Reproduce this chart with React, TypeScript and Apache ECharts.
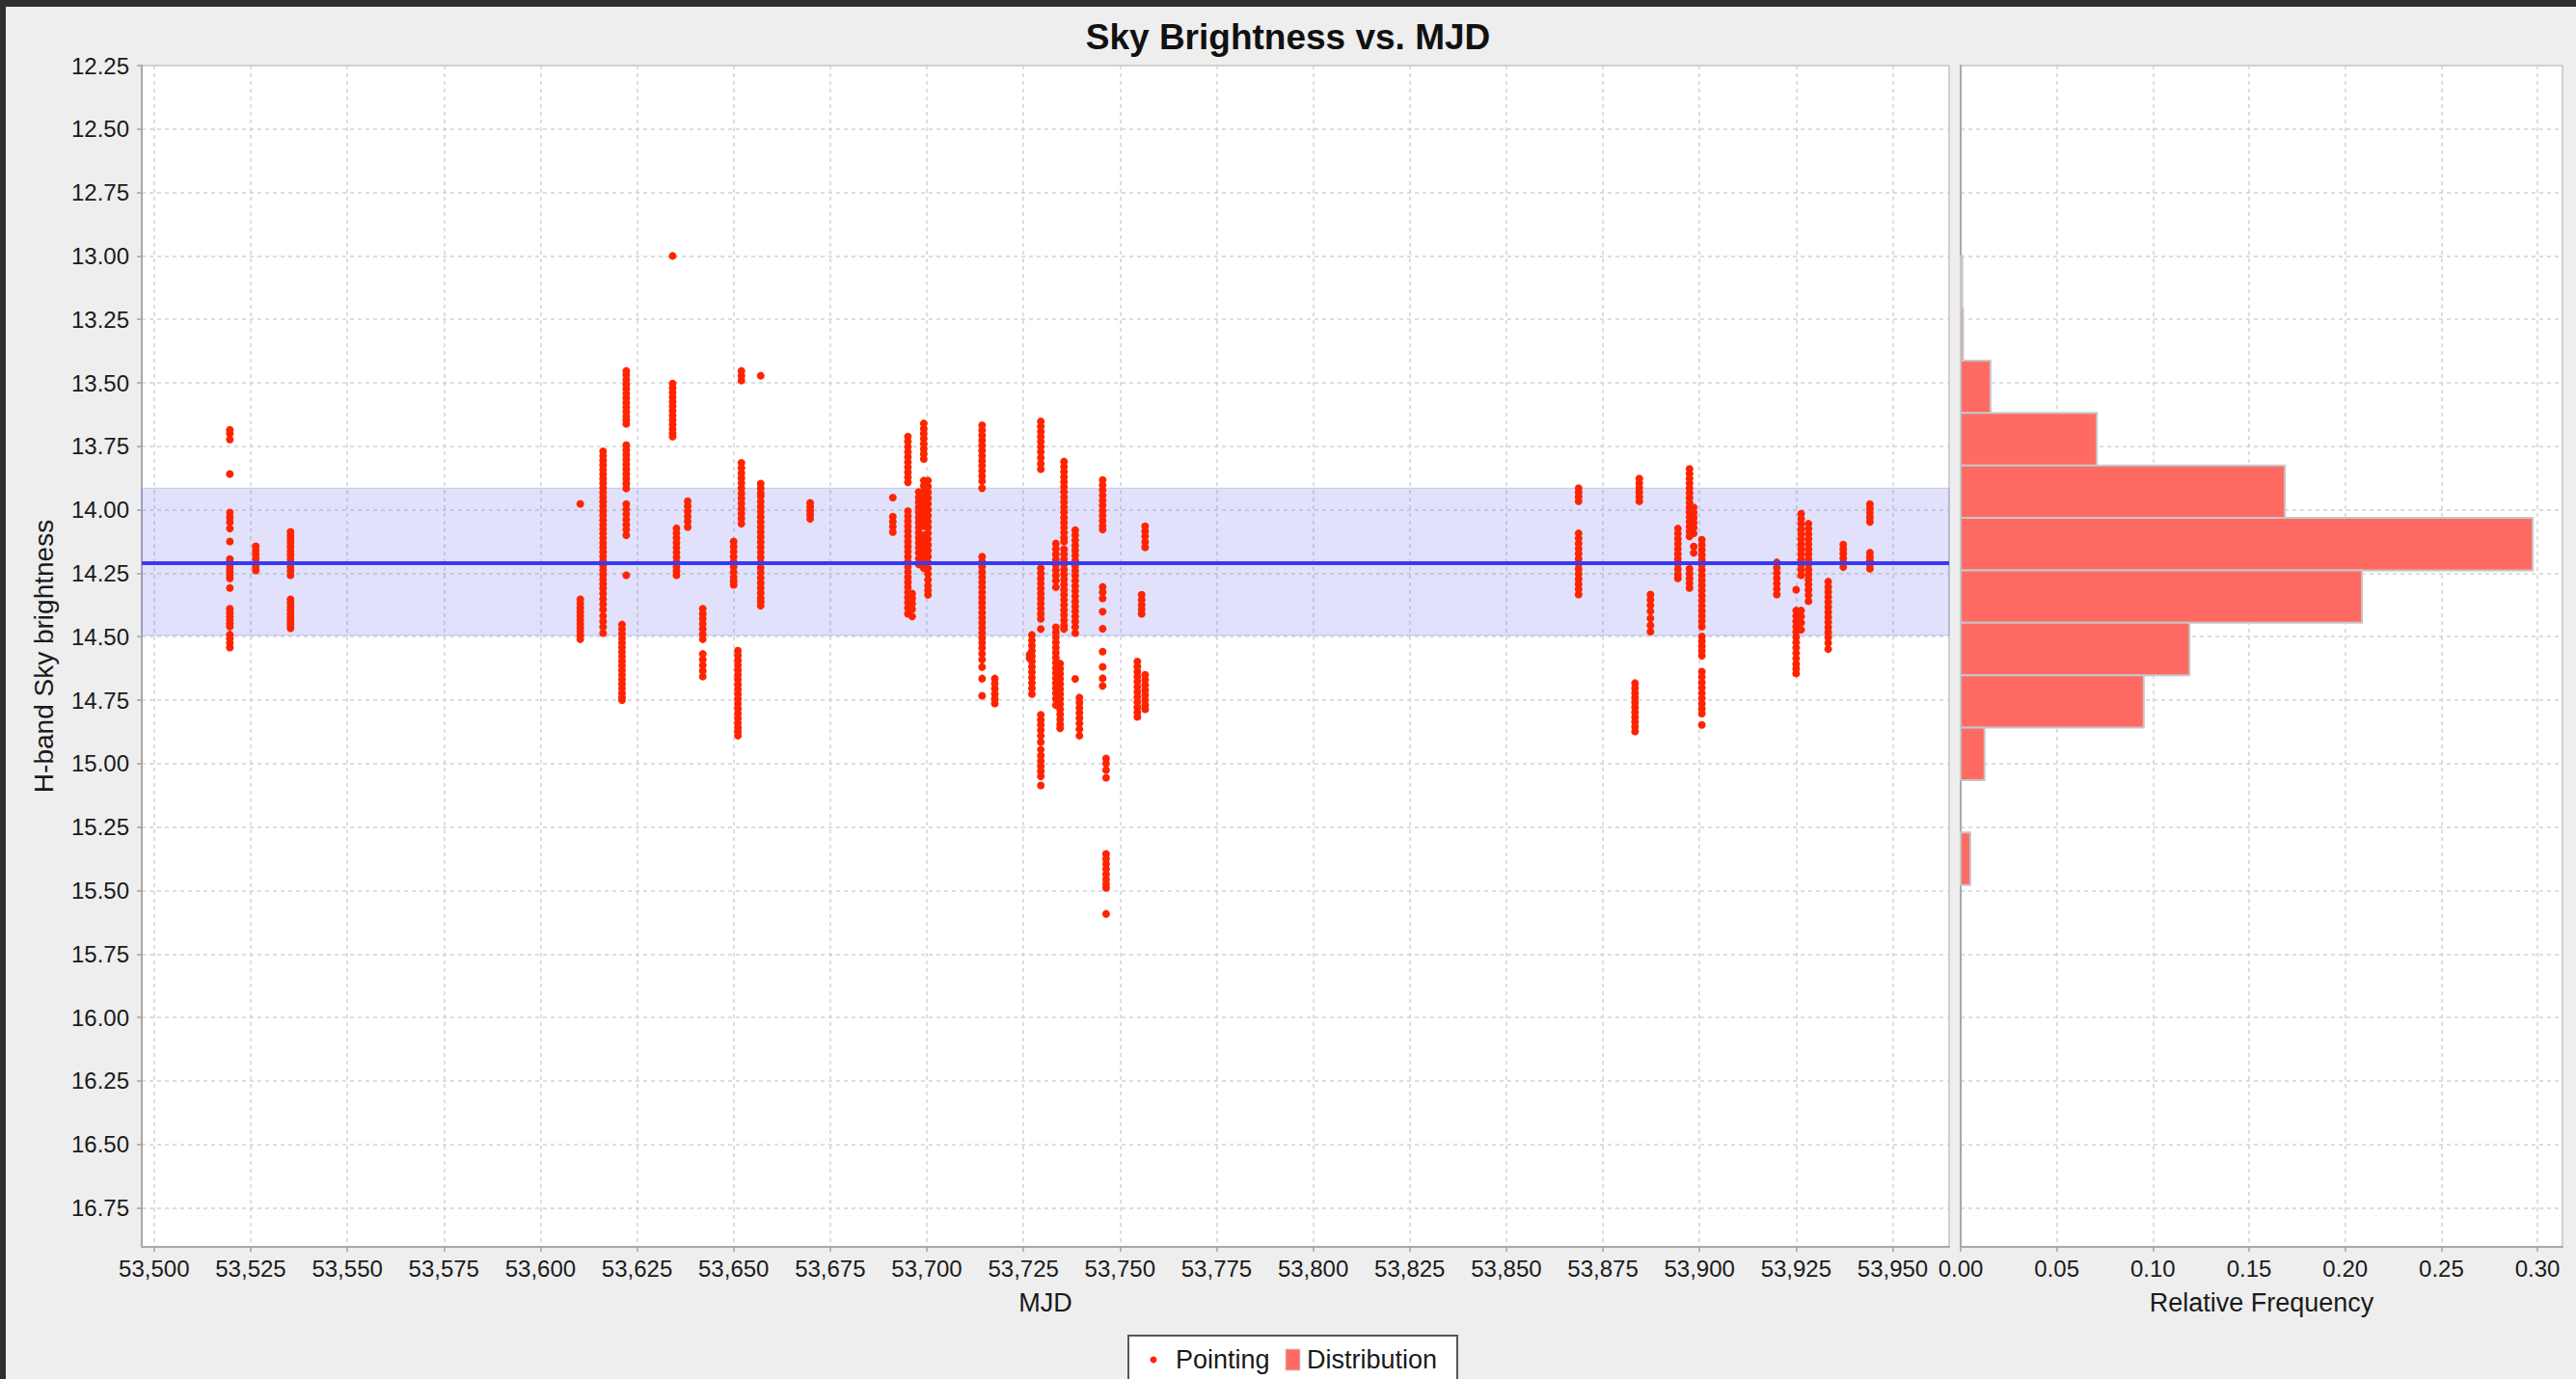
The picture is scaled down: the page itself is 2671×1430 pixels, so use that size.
import React, { useEffect, useRef } from "react";
import * as echarts from "echarts";

// ---------- data ----------
const FONT = "Liberation Sans";

const xTicks = [53500, 53525, 53550, 53575, 53600, 53625, 53650, 53675, 53700, 53725, 53750, 53775, 53800, 53825, 53850, 53875, 53900, 53925, 53950];
const yTicks = [12.25, 12.5, 12.75, 13.0, 13.25, 13.5, 13.75, 14.0, 14.25, 14.5, 14.75, 15.0, 15.25, 15.5, 15.75, 16.0, 16.25, 16.5, 16.75];
const freqTicks = [0, 0.05, 0.1, 0.15, 0.2, 0.25, 0.3];

const xRange = [53496.8, 53964.6];
const yRange = [12.25, 16.904];
const freqRange = [0, 0.313];

const meanBrightness = 14.205;
const sigmaBand = [13.915, 14.495];

// histogram bins: [binStart, binEnd]
const histStarts = [13.0, 13.206, 13.413, 13.619, 13.826, 14.032, 14.239, 14.445, 14.652, 14.858, 15.065, 15.271];
const histEnds = [13.206, 13.413, 13.619, 13.826, 14.032, 14.239, 14.445, 14.652, 14.858, 15.065, 15.271, 15.478];
const histFreq = [0.0008, 0.0012, 0.0155, 0.0708, 0.1686, 0.2975, 0.2087, 0.119, 0.0952, 0.0124, 0, 0.005];

// pointings grouped per night: [MJD, magnitudes]
const nightsA: [number, number[]][] = [
  [53519.6, [13.685, 13.7, 13.723, 13.859, 14.011, 14.03, 14.049, 14.074, 14.125, 14.194, 14.205, 14.218, 14.232, 14.245, 14.258, 14.27, 14.308, 14.39, 14.405, 14.42, 14.435, 14.448, 14.46, 14.492, 14.508, 14.525, 14.543]],
  [53526.3, [14.144, 14.16, 14.176, 14.192, 14.208, 14.224, 14.239]],
  [53535.3, [14.087, 14.102, 14.117, 14.132, 14.147, 14.163, 14.178, 14.194, 14.21, 14.226, 14.242, 14.258, 14.353, 14.368, 14.383, 14.397, 14.412, 14.426, 14.44, 14.454, 14.467]],
];

const nightsB: [number, number[]][] = [
  [53610.3, [13.977, 14.353, 14.37, 14.386, 14.402, 14.418, 14.434, 14.45, 14.465, 14.48, 14.495, 14.51]],
  [53616.2, [13.77, 13.788, 13.806, 13.824, 13.842, 13.86, 13.878, 13.896, 13.914, 13.932, 13.95, 13.968, 13.986, 14.004, 14.022, 14.04, 14.058, 14.076, 14.094, 14.112, 14.13, 14.148, 14.166, 14.184, 14.202, 14.22, 14.238, 14.256, 14.274, 14.292, 14.31, 14.33, 14.352, 14.372, 14.394, 14.418, 14.44, 14.462, 14.486]],
  [53622.2, [13.453, 13.47, 13.488, 13.506, 13.524, 13.542, 13.56, 13.578, 13.596, 13.614, 13.632, 13.648, 13.662, 13.745, 13.764, 13.783, 13.802, 13.821, 13.84, 13.859, 13.878, 13.897, 13.916, 13.978, 13.998, 14.018, 14.038, 14.058, 14.078, 14.1, 14.258]],
  [53621.1, [14.452, 14.47, 14.488, 14.506, 14.524, 14.542, 14.56, 14.578, 14.596, 14.614, 14.632, 14.65, 14.668, 14.686, 14.704, 14.722, 14.738, 14.75]],
  [53634.2, [13.0, 13.503, 13.52, 13.538, 13.556, 13.574, 13.592, 13.61, 13.628, 13.646, 13.664, 13.682, 13.698, 13.712]],
  [53635.2, [14.073, 14.092, 14.111, 14.13, 14.149, 14.168, 14.187, 14.206, 14.225, 14.242, 14.258]],
  [53638.1, [13.966, 13.986, 14.006, 14.026, 14.046, 14.068]],
  [53642.0, [14.39, 14.41, 14.43, 14.45, 14.47, 14.49, 14.51, 14.568, 14.59, 14.612, 14.634, 14.657]],
  [53650.0, [14.125, 14.145, 14.165, 14.185, 14.205, 14.225, 14.245, 14.265, 14.281, 14.296]],
  [53651.1, [14.555, 14.574, 14.593, 14.612, 14.631, 14.65, 14.669, 14.688, 14.707, 14.726, 14.745, 14.764, 14.783, 14.802, 14.821, 14.84, 14.858, 14.875, 14.89]],
  [53652.0, [13.453, 13.472, 13.491, 13.815, 13.835, 13.855, 13.875, 13.895, 13.915, 13.935, 13.955, 13.975, 13.995, 14.015, 14.035, 14.055]],
  [53657.0, [13.472, 13.897, 13.916, 13.935, 13.947, 13.968, 13.988, 14.008, 14.028, 14.048, 14.068, 14.088, 14.108, 14.128, 14.148, 14.168, 14.188, 14.208, 14.228, 14.248, 14.268, 14.288, 14.308, 14.328, 14.348, 14.362, 14.378]],
  [53669.8, [13.973, 13.989, 14.005, 14.02, 14.036]],
];

const nightsC: [number, number[]][] = [
  [53691.2, [13.952, 14.027, 14.047, 14.067, 14.088]],
  [53695.1, [13.712, 13.732, 13.752, 13.772, 13.792, 13.812, 13.832, 13.852, 13.872, 13.892, 14.005, 14.025, 14.045, 14.065, 14.085, 14.105, 14.125, 14.145, 14.165, 14.185, 14.205, 14.225, 14.245, 14.265, 14.285, 14.305, 14.325, 14.345, 14.365, 14.387, 14.41]],
  [53696.2, [14.33, 14.35, 14.37, 14.392, 14.42]],
  [53697.9, [13.93, 13.95, 13.97, 13.99, 14.01, 14.03, 14.05, 14.07, 14.09, 14.11, 14.13, 14.15, 14.17, 14.192, 14.215]],
  [53699.2, [13.66, 13.68, 13.7, 13.72, 13.74, 13.76, 13.78, 13.8, 13.885, 13.905, 13.925, 13.945, 13.965, 13.985, 14.005, 14.025, 14.045, 14.065, 14.1, 14.12, 14.14, 14.16, 14.18, 14.2, 14.23]],
  [53700.3, [13.885, 13.908, 13.931, 13.954, 13.977, 14.0, 14.023, 14.046, 14.069, 14.092, 14.115, 14.138, 14.161, 14.184, 14.207, 14.23, 14.253, 14.276, 14.299, 14.317, 14.335]],
];

const nightsD: [number, number[]][] = [
  [53714.3, [13.667, 13.687, 13.707, 13.727, 13.747, 13.767, 13.787, 13.807, 13.827, 13.847, 13.867, 13.887, 13.915, 14.185, 14.205, 14.225, 14.245, 14.265, 14.285, 14.305, 14.325, 14.345, 14.365, 14.385, 14.405, 14.425, 14.445, 14.465, 14.485, 14.505, 14.525, 14.545, 14.567, 14.59, 14.62, 14.665, 14.733]],
  [53717.6, [14.665, 14.685, 14.705, 14.725, 14.745, 14.763]],
  [53726.6, [14.57, 14.585]],
  [53727.2, [14.493, 14.514, 14.535, 14.556, 14.577, 14.598, 14.619, 14.64, 14.661, 14.682, 14.703, 14.726]],
  [53729.5, [13.652, 13.672, 13.692, 13.712, 13.732, 13.752, 13.772, 13.795, 13.818, 13.84, 14.23, 14.25, 14.27, 14.29, 14.31, 14.33, 14.35, 14.37, 14.39, 14.41, 14.43, 14.47, 14.808, 14.828, 14.848, 14.868, 14.89, 14.915, 14.945, 14.968, 14.99, 15.01, 15.03, 15.05, 15.086]],
  [53733.4, [14.133, 14.154, 14.175, 14.196, 14.217, 14.238, 14.259, 14.28, 14.305, 14.463, 14.483, 14.503, 14.523, 14.543, 14.563, 14.583, 14.603, 14.623, 14.643, 14.663, 14.683, 14.703, 14.723, 14.745, 14.77]],
  [53734.5, [14.606, 14.626, 14.646, 14.666, 14.686, 14.706, 14.726, 14.746, 14.766, 14.786, 14.806, 14.826, 14.845, 14.861]],
  [53735.5, [13.81, 13.83, 13.85, 13.87, 13.89, 13.91, 13.93, 13.95, 13.97, 13.99, 14.01, 14.03, 14.05, 14.07, 14.09, 14.11, 14.125, 14.155, 14.175, 14.195, 14.215, 14.235, 14.255, 14.275, 14.295, 14.315, 14.335, 14.355, 14.375, 14.395, 14.415, 14.435, 14.455, 14.47]],
  [53738.4, [14.08, 14.1, 14.12, 14.14, 14.16, 14.18, 14.2, 14.22, 14.24, 14.26, 14.28, 14.3, 14.32, 14.34, 14.36, 14.38, 14.4, 14.42, 14.44, 14.462, 14.486, 14.666]],
  [53739.5, [14.74, 14.76, 14.78, 14.8, 14.82, 14.842, 14.865, 14.89]],
  [53745.5, [13.883, 13.903, 13.923, 13.943, 13.963, 13.983, 14.003, 14.023, 14.043, 14.063, 14.078, 14.304, 14.325, 14.349, 14.401, 14.469, 14.559, 14.619, 14.664, 14.694]],
  [53746.4, [14.98, 15.0, 15.025, 15.056, 15.356, 15.376, 15.396, 15.416, 15.436, 15.456, 15.474, 15.49, 15.592]],
  [53754.5, [14.598, 14.618, 14.638, 14.658, 14.678, 14.698, 14.718, 14.738, 14.758, 14.778, 14.798, 14.816]],
  [53755.6, [14.335, 14.355, 14.375, 14.392, 14.41]],
  [53756.5, [14.065, 14.085, 14.105, 14.127, 14.148, 14.65, 14.67, 14.69, 14.71, 14.73, 14.75, 14.77, 14.786]],
];

const nightsE: [number, number[]][] = [
  [53868.7, [13.915, 13.932, 13.949, 13.966, 14.093, 14.113, 14.133, 14.153, 14.173, 14.193, 14.213, 14.233, 14.253, 14.273, 14.293, 14.313, 14.334]],
  [53883.3, [14.683, 14.702, 14.721, 14.74, 14.759, 14.778, 14.797, 14.816, 14.835, 14.854, 14.873]],
  [53884.4, [13.877, 13.895, 13.913, 13.931, 13.949, 13.966]],
  [53887.3, [14.334, 14.355, 14.376, 14.4, 14.428, 14.455, 14.48]],
  [53894.4, [14.074, 14.094, 14.114, 14.134, 14.154, 14.174, 14.194, 14.214, 14.234, 14.254, 14.27]],
  [53897.4, [13.839, 13.858, 13.877, 13.896, 13.915, 13.934, 13.953, 13.972, 13.991, 14.01, 14.029, 14.048, 14.067, 14.086, 14.105, 14.232, 14.251, 14.27, 14.289, 14.308]],
  [53898.5, [13.991, 14.011, 14.031, 14.051, 14.071, 14.093, 14.145, 14.17]],
  [53900.6, [14.118, 14.138, 14.158, 14.178, 14.198, 14.218, 14.238, 14.258, 14.278, 14.298, 14.318, 14.338, 14.358, 14.378, 14.398, 14.418, 14.438, 14.46, 14.499, 14.518, 14.537, 14.556, 14.575, 14.638, 14.659, 14.68, 14.701, 14.722, 14.743, 14.764, 14.784, 14.803, 14.848]],
  [53920.0, [14.207, 14.228, 14.249, 14.27, 14.291, 14.312, 14.334]],
  [53925.0, [14.315, 14.397, 14.418, 14.439, 14.46, 14.481, 14.502, 14.523, 14.544, 14.565, 14.586, 14.607, 14.626, 14.645]],
  [53926.3, [14.016, 14.036, 14.056, 14.076, 14.096, 14.116, 14.136, 14.156, 14.176, 14.196, 14.216, 14.236, 14.258, 14.397, 14.42, 14.445, 14.473]],
  [53928.2, [14.055, 14.075, 14.095, 14.115, 14.135, 14.155, 14.175, 14.195, 14.215, 14.235, 14.255, 14.275, 14.295, 14.315, 14.337, 14.36]],
  [53933.3, [14.283, 14.303, 14.323, 14.343, 14.363, 14.383, 14.403, 14.423, 14.443, 14.463, 14.483, 14.503, 14.525, 14.549]],
  [53937.2, [14.137, 14.155, 14.173, 14.191, 14.209, 14.226]],
  [53944.1, [13.978, 13.995, 14.012, 14.03, 14.048, 14.169, 14.185, 14.2, 14.216, 14.232]],
];

// ---------- chart ----------
const POINT_COLOR = "#ff2400";
const BAR_COLOR = "#ff6b63";
const GRID_LINE = { show: true, lineStyle: { color: "#d2d2d2", width: 1.5, type: [4, 4] as any } };
const AXIS_LINE = { show: true, lineStyle: { color: "#a8a8a8", width: 2 } };
const AXIS_TICK = { show: true, length: 5, lineStyle: { color: "#a0a0a0", width: 1.5 } };
const LABEL = { color: "#1a1a1a", fontSize: 24, fontFamily: FONT };

export default function App() {
  const ref = useRef<HTMLDivElement>(null);

  useEffect(() => {
    if (!ref.current) return;
    const chart = echarts.init(ref.current, undefined, { renderer: "svg" });

    const points: number[][] = [];
    [nightsA, nightsB, nightsC, nightsD, nightsE].forEach((group) =>
      group.forEach(([mjd, mags]) => mags.forEach((m) => points.push([mjd, m])))
    );
    const histData = histStarts.map((s, i) => [s, histEnds[i], histFreq[i]]);

    const option: any = {
      animation: false,
      backgroundColor: "#eeeeee",
      textStyle: { fontFamily: FONT },
      title: {
        text: "Sky Brightness vs. MJD",
        left: "center",
        top: 15,
        textStyle: { fontSize: 37, fontWeight: "bold", color: "#111", fontFamily: FONT },
      },
      grid: [
        { left: 147, top: 68, width: 1874, height: 1225, show: true, backgroundColor: "#ffffff", borderColor: "#c4c4c4", borderWidth: 1.5 },
        { left: 2033, top: 68, width: 624, height: 1225, show: true, backgroundColor: "#ffffff", borderColor: "#c4c4c4", borderWidth: 1.5 },
      ],
      xAxis: [
        {
          type: "value",
          gridIndex: 0,
          min: xRange[0],
          max: xRange[1],
          name: "MJD",
          nameLocation: "middle",
          nameGap: 44,
          nameTextStyle: { fontSize: 27, color: "#1a1a1a", fontFamily: FONT },
          axisLine: AXIS_LINE,
          axisTick: { ...AXIS_TICK, customValues: xTicks },
          axisLabel: { ...LABEL, margin: 10, customValues: xTicks, formatter: (v: number) => v.toLocaleString("en-US") },
          splitLine: GRID_LINE,
        },
        {
          type: "value",
          gridIndex: 1,
          min: freqRange[0],
          max: freqRange[1],
          name: "Relative Frequency",
          nameLocation: "middle",
          nameGap: 44,
          nameTextStyle: { fontSize: 27, color: "#1a1a1a", fontFamily: FONT },
          axisLine: AXIS_LINE,
          axisTick: { ...AXIS_TICK, customValues: freqTicks },
          axisLabel: { ...LABEL, margin: 10, customValues: freqTicks, formatter: (v: number) => v.toFixed(2) },
          splitLine: GRID_LINE,
        },
      ],
      yAxis: [
        {
          type: "value",
          gridIndex: 0,
          inverse: true,
          min: yRange[0],
          max: yRange[1],
          name: "H-band Sky brightness",
          nameLocation: "middle",
          nameGap: 88,
          nameRotate: 90,
          nameTextStyle: { fontSize: 28, color: "#1a1a1a", fontFamily: FONT },
          axisLine: AXIS_LINE,
          axisTick: { ...AXIS_TICK, customValues: yTicks },
          axisLabel: { ...LABEL, margin: 13, customValues: yTicks, formatter: (v: number) => v.toFixed(2) },
          splitLine: GRID_LINE,
        },
        {
          type: "value",
          gridIndex: 1,
          inverse: true,
          min: yRange[0],
          max: yRange[1],
          axisLine: AXIS_LINE,
          axisTick: { show: false, customValues: yTicks },
          axisLabel: { show: false, customValues: yTicks },
          splitLine: GRID_LINE,
        },
      ],
      series: [
        {
          name: "Pointing",
          type: "scatter",
          xAxisIndex: 0,
          yAxisIndex: 0,
          data: points,
          symbol: "circle",
          symbolSize: 8,
          itemStyle: { color: POINT_COLOR, opacity: 1 },
          silent: true,
          z: 3,
          markArea: {
            silent: true,
            itemStyle: { color: "rgba(95, 95, 235, 0.19)", borderColor: "rgba(150,150,230,0.5)", borderWidth: 1 },
            data: [[{ yAxis: sigmaBand[0] }, { yAxis: sigmaBand[1] }]],
          },
          markLine: {
            silent: true,
            symbol: ["none", "none"],
            label: { show: false },
            lineStyle: { color: "#3a3af2", width: 4, type: "solid" },
            data: [{ yAxis: meanBrightness }],
          },
        },
        {
          name: "Distribution",
          type: "custom",
          xAxisIndex: 1,
          yAxisIndex: 1,
          data: histData,
          encode: { x: 2, y: [0, 1] },
          silent: true,
          z: 3,
          renderItem: (_params: any, api: any) => {
            const f = api.value(2);
            if (!(f > 0)) return null;
            const p0 = api.coord([0, api.value(0)]);
            const p1 = api.coord([f, api.value(1)]);
            return {
              type: "rect",
              shape: {
                x: p0[0],
                y: Math.min(p0[1], p1[1]),
                width: p1[0] - p0[0],
                height: Math.abs(p1[1] - p0[1]),
              },
              style: { fill: BAR_COLOR, stroke: "#c6c6c6", lineWidth: 2 },
            };
          },
        },
      ],
      graphic: [
        { type: "rect", shape: { x: 0, y: 0, width: 2671, height: 7 }, style: { fill: "#2f2f2f" }, silent: true },
        { type: "rect", shape: { x: 0, y: 0, width: 6, height: 1430 }, style: { fill: "#2f2f2f" }, silent: true },
        {
          type: "group",
          left: 1169,
          top: 1384,
          children: [
            { type: "rect", shape: { x: 0, y: 0, width: 341, height: 60 }, style: { fill: "#ffffff", stroke: "#555555", lineWidth: 2 } },
            { type: "circle", shape: { cx: 26, cy: 25, r: 3.5 }, style: { fill: POINT_COLOR } },
            { type: "text", x: 49, y: 25, style: { text: "Pointing", fontSize: 27, fontFamily: FONT, fill: "#1a1a1a", verticalAlign: "middle" } },
            { type: "rect", shape: { x: 163, y: 14, width: 15, height: 22 }, style: { fill: BAR_COLOR, stroke: "#d0d0d0", lineWidth: 1 } },
            { type: "text", x: 185, y: 25, style: { text: "Distribution", fontSize: 27, fontFamily: FONT, fill: "#1a1a1a", verticalAlign: "middle" } },
          ],
        },
      ],
    };

    chart.setOption(option);
    return () => chart.dispose();
  }, []);

  return (
    <div
      ref={ref}
      style={{ position: "fixed", left: 0, top: 0, width: 2671, height: 1430 }}
    />
  );
}
